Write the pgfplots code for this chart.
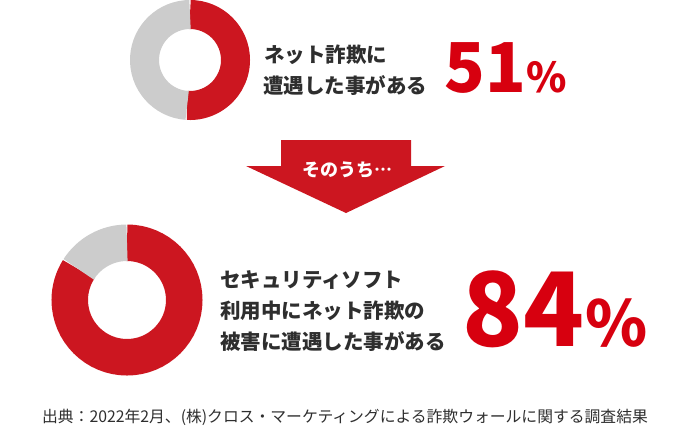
\documentclass[border=0pt]{standalone}
\usepackage{pgfplots}
\pgfplotsset{compat=1.18}
\usepackage{pgfplotstable}
\usepackage{fontspec}
\newfontfamily\jp{Noto Sans CJK JP}[Language=Japanese]
\definecolor{donutred}{HTML}{CC1620}
\definecolor{donutgray}{HTML}{CCCCCC}
\definecolor{numred}{HTML}{D7000F}
\definecolor{txt}{HTML}{2E2E2E}

% donut data: centre (px), outer and inner radius (px), share in percent
\pgfplotstableread{
cx  cy  R    r   pct
190 60  60   31  51
127 300 75.5 39  84
}\donuts

\begin{document}
\begin{tikzpicture}
\pgfplotstablegetelem{0}{pct}\of\donuts \let\pA\pgfplotsretval
\pgfplotstablegetelem{1}{pct}\of\donuts \let\pB\pgfplotsretval
\pgfmathsetmacro\eA{90-3.6*\pA}
\pgfmathsetmacro\dA{-3.6*\pA}
\pgfmathsetmacro\gA{-3.6*(100-\pA)}
\pgfmathsetmacro\eB{90-3.6*\pB}
\pgfmathsetmacro\dB{-3.6*\pB}
\pgfmathsetmacro\gB{-3.6*(100-\pB)}
\useasboundingbox (0,0) rectangle (690pt,434pt);
\begin{axis}[at={(0,0)}, anchor=south west,
  width=690pt, height=434pt, scale only axis,
  xmin=0, xmax=690, ymin=0, ymax=434, y dir=reverse,
  hide axis, clip=false]
% invisible data anchor so the axis has a plot
\addplot[draw=none, forget plot] coordinates {(0,0) (690,434)};
% donut 1
\draw[donutred, line width=29pt] (axis cs:190,60) ++(90:45.5pt)
   arc[start angle=90, delta angle=\dA, radius=45.5pt];
\draw[donutgray, line width=29pt] (axis cs:190,60) ++(\eA:45.5pt)
   arc[start angle=\eA, delta angle=\gA, radius=45.5pt];
% donut 2
\draw[donutred, line width=36.5pt] (axis cs:127,300) ++(90:57.25pt)
   arc[start angle=90, delta angle=\dB, radius=57.25pt];
\draw[donutgray, line width=36.5pt] (axis cs:127,300) ++(\eB:57.25pt)
   arc[start angle=\eB, delta angle=\gB, radius=57.25pt];
% arrow
\fill[donutred] (axis cs:281,140) -- (axis cs:411,140) -- (axis cs:411,166)
  -- (axis cs:445,166) -- (axis cs:346,213) -- (axis cs:246,166)
  -- (axis cs:281,166) -- cycle;
\node[white, font=\jp\bfseries\fontsize{18}{20}\selectfont, inner sep=0pt]
  at (axis cs:347,170) {そのうち⋯};
% texts
\begin{scope}[every node/.style={txt, inner sep=0pt, anchor=base west,
   font=\jp\bfseries\fontsize{20.5}{24}\selectfont}]
\node at (axis cs:264,62.8) {ネット詐欺に};
\node at (axis cs:263,93.8) {遭遇した事がある};
\node at (axis cs:220,287.8) {セキュリティソフト};
\node at (axis cs:220,318.8) {利用中にネット詐欺の};
\node at (axis cs:220,349.8) {被害に遭遇した事がある};
\end{scope}
% numbers
\node[numred, inner sep=0pt, anchor=base west, font=\jp\bfseries\fontsize{67}{70}\selectfont]
  at (axis cs:444,92) {\pA};
\node[numred, inner sep=0pt, anchor=base west, font=\jp\bfseries\fontsize{41}{44}\selectfont]
  at (axis cs:526,92) {\%};
\node[numred, inner sep=0pt, anchor=base west, font=\jp\bfseries\fontsize{100}{104}\selectfont]
  at (axis cs:462,346) {\pB};
\node[numred, inner sep=0pt, anchor=base west, font=\jp\bfseries\fontsize{63}{66}\selectfont]
  at (axis cs:585,346) {\%};
% footer
\node[txt, inner sep=0pt, anchor=center, font=\jp\fontsize{15.8}{18}\selectfont]
  at (axis cs:345,417) {出典：2022年2月、(株)クロス・マーケティングによる詐欺ウォールに関する調査結果};
\end{axis}
\end{tikzpicture}
\end{document}
